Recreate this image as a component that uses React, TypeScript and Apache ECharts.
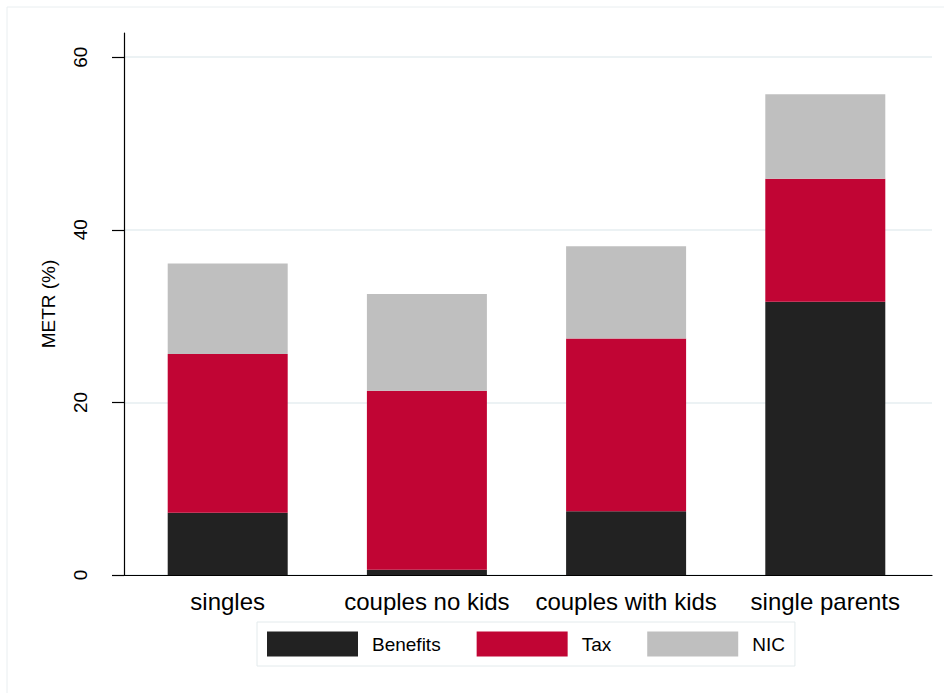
import React, { useEffect, useRef } from 'react';
import * as echarts from 'echarts';

type EChartsOption = echarts.EChartsOption;

const categories = ['singles', 'couples no kids', 'couples with kids', 'single parents'];
const benefits = [7.2, 0.6, 7.4, 31.65];
const tax = [18.4, 20.75, 20.0, 14.25];
const nic = [10.5, 11.2, 10.7, 9.8];
const yTicks = [0, 20, 40, 60];
const yMax = 62.8;

const FONT = '"Liberation Sans", Arial, sans-serif';

const App: React.FC = () => {
  const chartRef = useRef<HTMLDivElement>(null);

  useEffect(() => {
    if (!chartRef.current) return;

    const myChart = echarts.init(chartRef.current, null, { renderer: 'svg' });

    const option: EChartsOption = {
      animation: false,
      backgroundColor: '#ffffff',
      textStyle: { fontFamily: FONT },
      // marco claro del área del gráfico
      graphic: [
        {
          type: 'rect',
          shape: { x: 7, y: 7, width: 950, height: 700 },
          style: { fill: 'none', stroke: '#e9eef0', lineWidth: 1 },
          silent: true
        }
      ],
      grid: [
        // ejes y líneas de referencia
        { left: 124, top: 33, width: 808, height: 542 },
        // barras (con margen exterior como en Stata)
        { left: 128.1, top: 33, width: 796.8, height: 542 }
      ],
      legend: {
        left: 257,
        top: 622,
        orient: 'horizontal',
        icon: 'rect',
        itemWidth: 91,
        itemHeight: 25,
        itemGap: 36,
        padding: [9.5, 10],
        borderColor: '#e3eaec',
        borderWidth: 1,
        backgroundColor: '#ffffff',
        selectedMode: false,
        textStyle: {
          fontSize: 19,
          color: '#000',
          fontFamily: FONT,
          padding: [0, 0, 0, 9]
        },
        data: ['Benefits', 'Tax', 'NIC']
      },
      xAxis: [
        {
          type: 'value',
          gridIndex: 0,
          min: 0,
          max: 1,
          z: 5,
          axisLine: { show: true, lineStyle: { color: '#000', width: 1.2 } },
          axisTick: { show: false },
          axisLabel: { show: false },
          splitLine: { show: false }
        },
        {
          type: 'category',
          gridIndex: 1,
          data: categories,
          axisLine: { show: false },
          axisTick: { show: false },
          axisLabel: { interval: 0, fontSize: 24, color: '#000', margin: 14, fontFamily: FONT },
          splitLine: { show: false }
        }
      ],
      yAxis: [
        {
          type: 'value',
          gridIndex: 0,
          min: 0,
          max: yMax,
          name: 'METR (%)',
          nameLocation: 'middle',
          nameGap: 66,
          nameTextStyle: { fontSize: 19, color: '#000', fontFamily: FONT },
          axisLine: { show: true, lineStyle: { color: '#000', width: 1.2 } },
          axisTick: {
            show: true,
            length: 12,
            customValues: yTicks,
            lineStyle: { color: '#000', width: 1.2 }
          },
          axisLabel: {
            customValues: yTicks,
            rotate: 90,
            margin: 34,
            fontSize: 19,
            color: '#000',
            fontFamily: FONT
          },
          splitLine: { show: true, lineStyle: { color: '#e6eef0', width: 1.5 } }
        },
        {
          type: 'value',
          gridIndex: 1,
          min: 0,
          max: yMax,
          show: false
        }
      ],
      series: [
        {
          name: 'Benefits',
          type: 'bar',
          stack: 'metr',
          xAxisIndex: 1,
          yAxisIndex: 1,
          barWidth: 120,
          itemStyle: { color: '#222222' },
          data: benefits
        },
        {
          name: 'Tax',
          type: 'bar',
          stack: 'metr',
          xAxisIndex: 1,
          yAxisIndex: 1,
          barWidth: 120,
          itemStyle: { color: '#c10534' },
          data: tax
        },
        {
          name: 'NIC',
          type: 'bar',
          stack: 'metr',
          xAxisIndex: 1,
          yAxisIndex: 1,
          barWidth: 120,
          itemStyle: { color: '#bfbfbf' },
          data: nic
        }
      ]
    };

    myChart.setOption(option);

    return () => {
      myChart.dispose();
    };
  }, []);

  return (
    <div
      ref={chartRef}
      style={{ position: 'absolute', left: 0, top: 0, width: '944px', height: '693px' }}
    />
  );
};

export default App;
